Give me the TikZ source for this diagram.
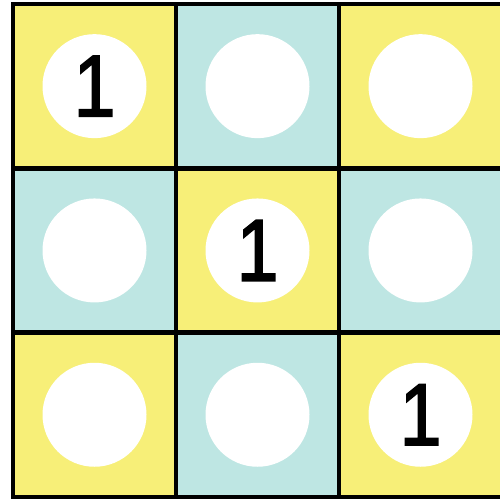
\documentclass[tikz,border=0pt]{standalone}
\usepackage{fontspec}
\setmainfont{Liberation Sans}
\newfontfamily\digitfont[FakeBold=2]{Liberation Sans}
\definecolor{cellyellow}{HTML}{F7EF78}
\definecolor{cellcyan}{HTML}{BEE6E3}
\begin{document}
\begin{tikzpicture}[x=1pt,y=-1pt,
  cellbox/.style={draw=black,line width=4.5pt,minimum width=163pt,minimum height=164pt,inner sep=0pt,outer sep=0pt},
  disc/.style={circle,fill=white,minimum size=104pt,inner sep=0pt,font=\digitfont\fontsize{82}{82}\selectfont}]
\useasboundingbox (0,0) rectangle (500,499);
\fill[white] (0,0) rectangle (500,499);
\foreach \r in {0,1,2}{
  \foreach \c in {0,1,2}{
    \pgfmathtruncatemacro{\parity}{mod(\r+\c,2)}
    \ifnum\parity=0 \def\fc{cellyellow}\else\def\fc{cellcyan}\fi
    \node[cellbox,fill=\fc] (cell\r\c) at ({13+163*\c+81.5},{4+164.3*\r+82.15}) {};
  }
}
\foreach \r in {0,1,2}{
  \foreach \c in {0,1,2}{
    \ifnum\r=\c
      \node[disc] (disc\r\c) at (cell\r\c.center) {\raisebox{-11pt}{\scalebox{0.92}[1.07]{1}}};
    \else
      \node[disc] (disc\r\c) at (cell\r\c.center) {};
    \fi
  }
}
\end{tikzpicture}
\end{document}
